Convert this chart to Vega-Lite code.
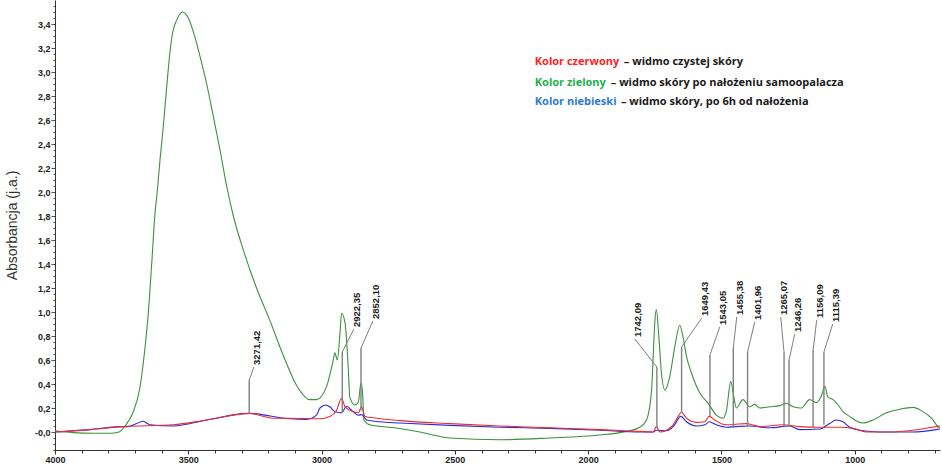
{
  "$schema": "https://vega.github.io/schema/vega-lite/v6.json",
  "width": 885,
  "height": 450,
  "autosize": {"type": "none"},
  "padding": {"left": 55, "top": 0, "right": 2, "bottom": 16},
  "background": "white",
  "config": {"view": {"stroke": null}},
  "datasets": {
    "spec": [
      {"s":"zielony","wn":4000,"a":0.01},{"s":"zielony","wn":3932,"a":-0.005},{"s":"zielony","wn":3860,"a":-0.01},{"s":"zielony","wn":3794,"a":-0.01},{"s":"zielony","wn":3760,"a":0.0},{"s":"zielony","wn":3737,"a":0.05},{"s":"zielony","wn":3708,"a":0.16},{"s":"zielony","wn":3681,"a":0.375},{"s":"zielony","wn":3662,"a":0.71},{"s":"zielony","wn":3650,"a":0.99},{"s":"zielony","wn":3637,"a":1.41},{"s":"zielony","wn":3625,"a":1.82},{"s":"zielony","wn":3617,"a":1.99},{"s":"zielony","wn":3606,"a":2.27},{"s":"zielony","wn":3594,"a":2.54},{"s":"zielony","wn":3581,"a":2.875},{"s":"zielony","wn":3569,"a":3.16},{"s":"zielony","wn":3559,"a":3.325},{"s":"zielony","wn":3544,"a":3.43},{"s":"zielony","wn":3521,"a":3.5},{"s":"zielony","wn":3500,"a":3.45},{"s":"zielony","wn":3475,"a":3.29},{"s":"zielony","wn":3456,"a":3.13},{"s":"zielony","wn":3431,"a":2.9},{"s":"zielony","wn":3406,"a":2.63},{"s":"zielony","wn":3381,"a":2.35},{"s":"zielony","wn":3356,"a":2.05},{"s":"zielony","wn":3331,"a":1.8},{"s":"zielony","wn":3294,"a":1.52},{"s":"zielony","wn":3244,"a":1.2},{"s":"zielony","wn":3194,"a":0.93},{"s":"zielony","wn":3144,"a":0.64},{"s":"zielony","wn":3094,"a":0.39},{"s":"zielony","wn":3044,"a":0.27},{"s":"zielony","wn":3019,"a":0.27},{"s":"zielony","wn":2981,"a":0.38},{"s":"zielony","wn":2956,"a":0.6},{"s":"zielony","wn":2950,"a":0.66},{"s":"zielony","wn":2941,"a":0.6},{"s":"zielony","wn":2931,"a":0.82},{"s":"zielony","wn":2925,"a":0.99},{"s":"zielony","wn":2912,"a":0.91},{"s":"zielony","wn":2900,"a":0.54},{"s":"zielony","wn":2894,"a":0.29},{"s":"zielony","wn":2875,"a":0.225},{"s":"zielony","wn":2862,"a":0.25},{"s":"zielony","wn":2852,"a":0.41},{"s":"zielony","wn":2846,"a":0.32},{"s":"zielony","wn":2841,"a":0.1},{"s":"zielony","wn":2819,"a":0.06},{"s":"zielony","wn":2719,"a":0.033},{"s":"zielony","wn":2631,"a":0.0},{"s":"zielony","wn":2519,"a":-0.05},{"s":"zielony","wn":2331,"a":-0.065},{"s":"zielony","wn":2144,"a":-0.05},{"s":"zielony","wn":1956,"a":-0.025},{"s":"zielony","wn":1881,"a":-0.005},{"s":"zielony","wn":1806,"a":0.04},{"s":"zielony","wn":1781,"a":0.1},{"s":"zielony","wn":1762,"a":0.35},{"s":"zielony","wn":1756,"a":0.63},{"s":"zielony","wn":1750,"a":0.91},{"s":"zielony","wn":1744,"a":1.02},{"s":"zielony","wn":1734,"a":0.77},{"s":"zielony","wn":1725,"a":0.49},{"s":"zielony","wn":1712,"a":0.35},{"s":"zielony","wn":1694,"a":0.46},{"s":"zielony","wn":1675,"a":0.71},{"s":"zielony","wn":1656,"a":0.89},{"s":"zielony","wn":1644,"a":0.79},{"s":"zielony","wn":1631,"a":0.63},{"s":"zielony","wn":1612,"a":0.49},{"s":"zielony","wn":1581,"a":0.325},{"s":"zielony","wn":1550,"a":0.24},{"s":"zielony","wn":1519,"a":0.14},{"s":"zielony","wn":1494,"a":0.115},{"s":"zielony","wn":1481,"a":0.18},{"s":"zielony","wn":1465,"a":0.42},{"s":"zielony","wn":1454,"a":0.3},{"s":"zielony","wn":1444,"a":0.2},{"s":"zielony","wn":1419,"a":0.27},{"s":"zielony","wn":1394,"a":0.21},{"s":"zielony","wn":1375,"a":0.23},{"s":"zielony","wn":1356,"a":0.2},{"s":"zielony","wn":1319,"a":0.21},{"s":"zielony","wn":1281,"a":0.22},{"s":"zielony","wn":1256,"a":0.24},{"s":"zielony","wn":1231,"a":0.21},{"s":"zielony","wn":1200,"a":0.2},{"s":"zielony","wn":1169,"a":0.27},{"s":"zielony","wn":1144,"a":0.245},{"s":"zielony","wn":1125,"a":0.3},{"s":"zielony","wn":1112,"a":0.38},{"s":"zielony","wn":1100,"a":0.29},{"s":"zielony","wn":1081,"a":0.27},{"s":"zielony","wn":1062,"a":0.225},{"s":"zielony","wn":1044,"a":0.17},{"s":"zielony","wn":1019,"a":0.13},{"s":"zielony","wn":988,"a":0.085},{"s":"zielony","wn":969,"a":0.075},{"s":"zielony","wn":931,"a":0.1},{"s":"zielony","wn":881,"a":0.16},{"s":"zielony","wn":831,"a":0.19},{"s":"zielony","wn":781,"a":0.205},{"s":"zielony","wn":744,"a":0.17},{"s":"zielony","wn":712,"a":0.115},{"s":"zielony","wn":688,"a":0.045},{"s":"zielony","wn":681,"a":0.03},
      {"s":"niebieski","wn":4000,"a":0.0},{"s":"niebieski","wn":3869,"a":0.02},{"s":"niebieski","wn":3756,"a":0.045},{"s":"niebieski","wn":3725,"a":0.045},{"s":"niebieski","wn":3694,"a":0.07},{"s":"niebieski","wn":3669,"a":0.09},{"s":"niebieski","wn":3644,"a":0.06},{"s":"niebieski","wn":3556,"a":0.05},{"s":"niebieski","wn":3431,"a":0.1},{"s":"niebieski","wn":3271,"a":0.155},{"s":"niebieski","wn":3119,"a":0.11},{"s":"niebieski","wn":3056,"a":0.105},{"s":"niebieski","wn":3019,"a":0.14},{"s":"niebieski","wn":3006,"a":0.2},{"s":"niebieski","wn":2984,"a":0.225},{"s":"niebieski","wn":2969,"a":0.21},{"s":"niebieski","wn":2950,"a":0.17},{"s":"niebieski","wn":2925,"a":0.16},{"s":"niebieski","wn":2906,"a":0.215},{"s":"niebieski","wn":2887,"a":0.18},{"s":"niebieski","wn":2862,"a":0.14},{"s":"niebieski","wn":2850,"a":0.145},{"s":"niebieski","wn":2831,"a":0.1},{"s":"niebieski","wn":2781,"a":0.085},{"s":"niebieski","wn":2706,"a":0.075},{"s":"niebieski","wn":2519,"a":0.055},{"s":"niebieski","wn":2331,"a":0.04},{"s":"niebieski","wn":2144,"a":0.03},{"s":"niebieski","wn":1956,"a":0.015},{"s":"niebieski","wn":1806,"a":0.0},{"s":"niebieski","wn":1756,"a":0.0},{"s":"niebieski","wn":1744,"a":0.015},{"s":"niebieski","wn":1706,"a":0.01},{"s":"niebieski","wn":1681,"a":0.045},{"s":"niebieski","wn":1652,"a":0.13},{"s":"niebieski","wn":1631,"a":0.085},{"s":"niebieski","wn":1594,"a":0.05},{"s":"niebieski","wn":1562,"a":0.06},{"s":"niebieski","wn":1546,"a":0.085},{"s":"niebieski","wn":1519,"a":0.06},{"s":"niebieski","wn":1481,"a":0.04},{"s":"niebieski","wn":1444,"a":0.045},{"s":"niebieski","wn":1394,"a":0.05},{"s":"niebieski","wn":1319,"a":0.035},{"s":"niebieski","wn":1244,"a":0.05},{"s":"niebieski","wn":1206,"a":0.02},{"s":"niebieski","wn":1131,"a":0.025},{"s":"niebieski","wn":1094,"a":0.07},{"s":"niebieski","wn":1069,"a":0.1},{"s":"niebieski","wn":1044,"a":0.085},{"s":"niebieski","wn":1019,"a":0.04},{"s":"niebieski","wn":981,"a":0.015},{"s":"niebieski","wn":906,"a":0.0},{"s":"niebieski","wn":781,"a":0.0},{"s":"niebieski","wn":694,"a":0.02},{"s":"niebieski","wn":681,"a":0.025},
      {"s":"czerwony","wn":4000,"a":0.0},{"s":"czerwony","wn":3869,"a":0.02},{"s":"czerwony","wn":3745,"a":0.045},{"s":"czerwony","wn":3557,"a":0.06},{"s":"czerwony","wn":3431,"a":0.1},{"s":"czerwony","wn":3271,"a":0.155},{"s":"czerwony","wn":3182,"a":0.115},{"s":"czerwony","wn":3119,"a":0.115},{"s":"czerwony","wn":3006,"a":0.11},{"s":"czerwony","wn":2969,"a":0.13},{"s":"czerwony","wn":2944,"a":0.18},{"s":"czerwony","wn":2925,"a":0.28},{"s":"czerwony","wn":2912,"a":0.21},{"s":"czerwony","wn":2881,"a":0.17},{"s":"czerwony","wn":2862,"a":0.16},{"s":"czerwony","wn":2850,"a":0.21},{"s":"czerwony","wn":2837,"a":0.13},{"s":"czerwony","wn":2794,"a":0.115},{"s":"czerwony","wn":2706,"a":0.095},{"s":"czerwony","wn":2519,"a":0.07},{"s":"czerwony","wn":2331,"a":0.05},{"s":"czerwony","wn":2144,"a":0.035},{"s":"czerwony","wn":1956,"a":0.02},{"s":"czerwony","wn":1806,"a":0.005},{"s":"czerwony","wn":1756,"a":0.0},{"s":"czerwony","wn":1744,"a":0.045},{"s":"czerwony","wn":1731,"a":0.0},{"s":"czerwony","wn":1706,"a":0.015},{"s":"czerwony","wn":1681,"a":0.06},{"s":"czerwony","wn":1662,"a":0.13},{"s":"czerwony","wn":1650,"a":0.165},{"s":"czerwony","wn":1631,"a":0.115},{"s":"czerwony","wn":1594,"a":0.08},{"s":"czerwony","wn":1562,"a":0.085},{"s":"czerwony","wn":1546,"a":0.13},{"s":"czerwony","wn":1525,"a":0.1},{"s":"czerwony","wn":1494,"a":0.065},{"s":"czerwony","wn":1469,"a":0.06},{"s":"czerwony","wn":1444,"a":0.065},{"s":"czerwony","wn":1406,"a":0.07},{"s":"czerwony","wn":1356,"a":0.045},{"s":"czerwony","wn":1269,"a":0.06},{"s":"czerwony","wn":1206,"a":0.045},{"s":"czerwony","wn":1131,"a":0.04},{"s":"czerwony","wn":1056,"a":0.04},{"s":"czerwony","wn":1006,"a":0.03},{"s":"czerwony","wn":956,"a":0.0},{"s":"czerwony","wn":869,"a":0.0},{"s":"czerwony","wn":781,"a":0.015},{"s":"czerwony","wn":694,"a":0.045},{"s":"czerwony","wn":681,"a":0.05}
    ],
    "ann": [
      {"label":"3271,42","wn":3271.42,"a":0.155,"k":0.433},
      {"label":"2922,35","wn":2922.35,"a":0.16,"k":0.667},
      {"label":"2852,10","wn":2852.10,"a":0.18,"k":0.7},
      {"label":"1742,09","wn":1742.09,"a":0.033,"k":0.542},
      {"label":"1649,43","wn":1649.43,"a":0.16,"k":0.708},
      {"label":"1543,05","wn":1543.05,"a":0.133,"k":0.642},
      {"label":"1455,38","wn":1455.38,"a":0.05,"k":0.7},
      {"label":"1401,96","wn":1401.96,"a":0.05,"k":0.667},
      {"label":"1265,07","wn":1265.07,"a":0.05,"k":0.667},
      {"label":"1246,26","wn":1246.26,"a":0.05,"k":0.6},
      {"label":"1156,09","wn":1156.09,"a":0.04,"k":0.683},
      {"label":"1115,39","wn":1115.39,"a":0.06,"k":0.667}
    ],
    "lead": [
      {"label":"3271,42","wn":3253.75,"a":0.542,"wp":3271.42,"k":0.433},
      {"label":"2922,35","wn":2878.75,"a":0.858,"wp":2922.35,"k":0.667},
      {"label":"2852,10","wn":2807.5,"a":0.925,"wp":2852.10,"k":0.7},
      {"label":"1742,09","wn":1825,"a":0.775,"wp":1742.09,"k":0.542},
      {"label":"1649,43","wn":1573.75,"a":0.95,"wp":1649.43,"k":0.708},
      {"label":"1543,05","wn":1506.25,"a":0.875,"wp":1543.05,"k":0.642},
      {"label":"1455,38","wn":1442.5,"a":0.958,"wp":1455.38,"k":0.7},
      {"label":"1401,96","wn":1375,"a":0.917,"wp":1401.96,"k":0.667},
      {"label":"1265,07","wn":1277.5,"a":0.958,"wp":1265.07,"k":0.667},
      {"label":"1246,26","wn":1225,"a":0.817,"wp":1246.26,"k":0.6},
      {"label":"1156,09","wn":1142.5,"a":0.933,"wp":1156.09,"k":0.683},
      {"label":"1115,39","wn":1082.5,"a":0.9,"wp":1115.39,"k":0.667}
    ],
    "leg": [
      {"k":"czerwony","t":"Kolor czerwony","wn":2200,"a":3.086},
      {"k":"opis","t":"– widmo czystej skóry","wn":1866,"a":3.086},
      {"k":"zielony","t":"Kolor zielony","wn":2200,"a":2.911},
      {"k":"opis","t":"– widmo skóry po nałożeniu samoopalacza","wn":1915,"a":2.911},
      {"k":"niebieski","t":"Kolor niebieski","wn":2200,"a":2.753},
      {"k":"opis","t":"– widmo skóry, po 6h od nałożenia","wn":1877,"a":2.753}
    ]
  },
  "encoding": {
    "x": {
      "field": "wn", "type": "quantitative",
      "scale": {"domain": [4000, 680], "nice": false, "zero": false},
      "axis": {
        "title": null, "grid": false,
        "values": [4000,3900,3800,3700,3600,3500,3400,3300,3200,3100,3000,2900,2800,2700,2600,2500,2400,2300,2200,2100,2000,1900,1800,1700,1600,1500,1400,1300,1200,1100,1000,900,800,700],
        "labelExpr": "datum.value % 500 == 0 ? format(datum.value, 'd') : ''",
        "tickSize": {"condition": {"test": "datum.value % 500 == 0", "value": 4}, "value": 3},
        "domainColor": "#333", "tickColor": "#333",
        "labelFont": "Liberation Sans Narrow, Liberation Sans, sans-serif",
        "labelFontSize": 9, "labelFontWeight": "bold", "labelColor": "#222",
        "labelPadding": 1, "labelOverlap": false, "labelFlush": false
      }
    },
    "y": {
      "field": "a", "type": "quantitative",
      "scale": {"domain": [-0.15, 3.6], "nice": false, "zero": false},
      "axis": {
        "title": "Absorbancja (j.a.)", "grid": false,
        "values": [-0.15,-0.1,-0.05,0,0.05,0.1,0.15,0.2,0.25,0.3,0.35,0.4,0.45,0.5,0.55,0.6,0.65,0.7,0.75,0.8,0.85,0.9,0.95,1,1.05,1.1,1.15,1.2,1.25,1.3,1.35,1.4,1.45,1.5,1.55,1.6,1.65,1.7,1.75,1.8,1.85,1.9,1.95,2,2.05,2.1,2.15,2.2,2.25,2.3,2.35,2.4,2.45,2.5,2.55,2.6,2.65,2.7,2.75,2.8,2.85,2.9,2.95,3,3.05,3.1,3.15,3.2,3.25,3.3,3.35,3.4,3.45,3.5,3.55],
        "labelExpr": "(abs(datum.value*5 - round(datum.value*5)) < 0.001 && datum.value > -0.01 && datum.value < 3.45) ? (abs(datum.value) < 0.001 ? '-0,0' : replace(format(datum.value, '.1f'), '.', ',')) : ''",
        "tickSize": {"condition": {"test": "abs(datum.value*5 - round(datum.value*5)) < 0.001", "value": 4}, "value": 2},
        "domainColor": "#333", "tickColor": "#555",
        "labelFont": "Liberation Sans Narrow, Liberation Sans, sans-serif",
        "labelFontSize": 9, "labelFontWeight": "bold", "labelColor": "#222",
        "labelPadding": 1, "labelOverlap": false, "labelFlush": false,
        "titleFont": "Liberation Sans", "titleFontSize": 14, "titleFontWeight": "normal",
        "titleColor": "#333", "titlePadding": 15
      }
    }
  },
  "layer": [
    {
      "data": {"name": "spec"},
      "mark": {"type": "line", "strokeWidth": 1.1, "interpolate": "monotone"},
      "encoding": {
        "color": {
          "field": "s", "type": "nominal",
          "scale": {"domain": ["zielony", "niebieski", "czerwony"], "range": ["#3a923a", "#2a2ae0", "#ee2a2a"]},
          "legend": null
        }
      }
    },
    {
      "data": {"name": "ann"},
      "mark": {"type": "rule", "color": "#808080", "strokeWidth": 1.4},
      "encoding": {
        "y2": {"field": "k"}
      }
    },
    {
      "data": {"name": "lead"},
      "mark": {"type": "rule", "color": "#808080", "strokeWidth": 1},
      "encoding": {
        "x2": {"field": "wp"},
        "y2": {"field": "k"}
      }
    },
    {
      "data": {"name": "lead"},
      "mark": {"type": "text", "angle": 270, "align": "left", "baseline": "middle", "dx": 2, "dy": 3, "font": "Liberation Sans Narrow, Liberation Sans, sans-serif", "fontSize": 9.5, "fontWeight": "bold", "color": "#1a1a1a"},
      "encoding": {
        "text": {"field": "label"}
      }
    },
    {
      "data": {"name": "leg"},
      "mark": {"type": "text", "align": "left", "baseline": "middle", "font": "Open Sans", "fontSize": 11, "fontWeight": "bold"},
      "encoding": {
        "text": {"field": "t"},
        "color": {
          "field": "k", "type": "nominal",
          "scale": {"domain": ["czerwony", "zielony", "niebieski", "opis"], "range": ["#ff2222", "#22b14c", "#2e7bd6", "#1a1a1a"]},
          "legend": null
        }
      }
    }
  ],
  "resolve": {"scale": {"color": "independent"}}
}
